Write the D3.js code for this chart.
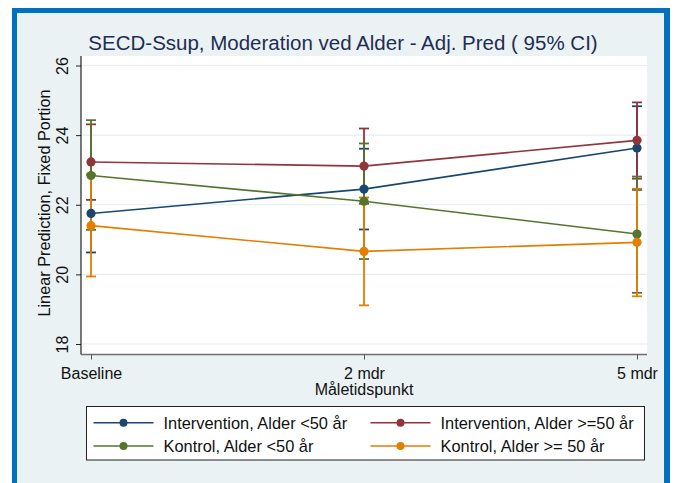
<!DOCTYPE html>
<html>
<head>
<meta charset="utf-8">
<script src="https://cdn.jsdelivr.net/npm/d3@7"></script>
<style>
  html, body { margin: 0; padding: 0; background: #ffffff; }
  svg { display: block; }
  svg text { font-family: "Liberation Sans", Arial, Helvetica, sans-serif; }
</style>
</head>
<body>
<svg id="chart" width="677" height="483"></svg>
<script>
// Time points on the x axis
const timepoints = ["Baseline", "2 mdr", "5 mdr"];
const yTicks = [18, 20, 22, 24, 26];

// Adjusted predictions per group (estimate, lower 95% CI, upper 95% CI)
const seriesNames = [
  "Intervention, Alder <50 år",
  "Intervention, Alder >=50 år",
  "Kontrol, Alder <50 år",
  "Kontrol, Alder >= 50 år"
];
const seriesColors = ["#1a476f", "#90353b", "#55752f", "#e37e00"];
const estimates = [
  [21.75, 22.45, 23.63],
  [23.23, 23.11, 23.85],
  [22.84, 22.10, 21.16],
  [21.40, 20.66, 20.92]
];
const lowerCI = [
  [20.63, 21.29, 22.43],
  [22.14, 22.03, 22.75],
  [21.28, 20.44, 19.47],
  [19.94, 19.11, 19.37]
];
const upperCI = [
  [22.87, 23.61, 24.83],
  [24.31, 24.19, 24.94],
  [24.43, 23.76, 22.81],
  [22.86, 22.21, 22.46]
];

const FONT = "'Liberation Sans', Arial, Helvetica, sans-serif";
const svg = d3.select("#chart");
const W = 677, H = 483;

// Page background and frame
svg.append("rect").attr("x", 0).attr("y", 0).attr("width", W).attr("height", H).attr("fill", "#ffffff");
svg.append("rect").attr("x", 12).attr("y", 8).attr("width", 658).attr("height", 490).attr("fill", "#0070c0");
svg.append("rect").attr("x", 17).attr("y", 13).attr("width", 647).attr("height", 480).attr("fill", "#eaf2f3");

// Plot region
const plot = { left: 81, right: 647, top: 56, bottom: 354.5 };
svg.append("rect")
  .attr("x", plot.left).attr("y", plot.top)
  .attr("width", plot.right - plot.left).attr("height", plot.bottom - plot.top)
  .attr("fill", "#ffffff");

const x = d3.scalePoint().domain(timepoints).range([91, 637]);
const y = d3.scaleLinear().domain([18, 26]).range([344, 65.5]);

// Horizontal gridlines
svg.append("g").selectAll("line").data(yTicks).join("line")
  .attr("x1", plot.left).attr("x2", plot.right)
  .attr("y1", d => y(d)).attr("y2", d => y(d))
  .attr("stroke", "#e6eef0").attr("stroke-width", 1.2);

// Y axis
const yAxis = svg.append("g")
  .attr("transform", `translate(${plot.left},0)`)
  .call(d3.axisLeft(y).tickValues(yTicks).tickSize(5).tickFormat(d3.format("d")))
  .attr("font-family", FONT).attr("font-size", 16);
yAxis.select(".domain").attr("d", `M0,${plot.top}V${plot.bottom}`).attr("stroke", "#222").attr("stroke-width", 1.2);
yAxis.selectAll(".tick line").attr("stroke", "#222");
yAxis.selectAll(".tick text")
  .attr("fill", "#111")
  .attr("text-anchor", "middle").attr("dy", null).attr("x", null)
  .attr("transform", "translate(-13,0) rotate(-90)");

// X axis
const xAxis = svg.append("g")
  .attr("transform", `translate(0,${plot.bottom})`)
  .call(d3.axisBottom(x).tickSize(5))
  .attr("font-family", FONT).attr("font-size", 16);
xAxis.select(".domain").attr("d", `M${plot.left},0H${plot.right}`).attr("stroke", "#6e6e6e").attr("stroke-width", 1.6);
xAxis.selectAll(".tick line").attr("stroke", "#555");
xAxis.selectAll(".tick text").attr("fill", "#111").attr("dy", null).attr("y", 24.5);

// Axis titles
svg.append("text")
  .attr("x", 364).attr("y", 395)
  .attr("text-anchor", "middle").attr("font-size", 16).attr("fill", "#111")
  .text("Måletidspunkt");
svg.append("text")
  .attr("transform", "translate(50,203) rotate(-90)")
  .attr("text-anchor", "middle")
  .attr("font-size", 16.3).attr("fill", "#111")
  .text("Linear Prediction, Fixed Portion");

// Title
svg.append("text")
  .attr("x", 343).attr("y", 50)
  .attr("text-anchor", "middle").attr("font-size", 20.5).attr("fill", "#1e2d53")
  .text("SECD-Ssup, Moderation ved Alder - Adj. Pred ( 95% CI)");

// Confidence intervals (capped spikes)
const capHalf = 5;
seriesNames.forEach((name, s) => {
  const g = svg.append("g").attr("stroke", seriesColors[s]).attr("stroke-width", 1.8).attr("fill", "none");
  timepoints.forEach((t, i) => {
    const cx = x(t);
    g.append("line").attr("x1", cx).attr("x2", cx).attr("y1", y(lowerCI[s][i])).attr("y2", y(upperCI[s][i]));
    g.append("line").attr("x1", cx - capHalf).attr("x2", cx + capHalf).attr("y1", y(lowerCI[s][i])).attr("y2", y(lowerCI[s][i]));
    g.append("line").attr("x1", cx - capHalf).attr("x2", cx + capHalf).attr("y1", y(upperCI[s][i])).attr("y2", y(upperCI[s][i]));
  });
});

// Connected point estimates
const line = d3.line().x((d, i) => x(timepoints[i])).y(d => y(d));
seriesNames.forEach((name, s) => {
  svg.append("path").datum(estimates[s])
    .attr("d", line).attr("fill", "none")
    .attr("stroke", seriesColors[s]).attr("stroke-width", 1.6);
  svg.append("g").selectAll("circle").data(estimates[s]).join("circle")
    .attr("cx", (d, i) => x(timepoints[i])).attr("cy", d => y(d))
    .attr("r", 4.6).attr("fill", seriesColors[s]);
});

// Legend
const legend = svg.append("g");
legend.append("rect")
  .attr("x", 86.5).attr("y", 406.5).attr("width", 558).attr("height", 53.5)
  .attr("fill", "#ffffff").attr("stroke", "#222").attr("stroke-width", 1);
const colX = [93.5, 370.5];
const rowY = [422.7, 446];
seriesNames.forEach((name, s) => {
  const lx = colX[s % 2], ly = rowY[Math.floor(s / 2)];
  legend.append("line").attr("x1", lx).attr("x2", lx + 60).attr("y1", ly).attr("y2", ly)
    .attr("stroke", seriesColors[s]).attr("stroke-width", 1.6);
  legend.append("circle").attr("cx", lx + 30).attr("cy", ly).attr("r", 4).attr("fill", seriesColors[s]);
  legend.append("text").attr("x", lx + 70).attr("y", ly + 6)
    .attr("font-size", 16.4).attr("fill", "#111").text(name);
});
</script>
</body>
</html>
